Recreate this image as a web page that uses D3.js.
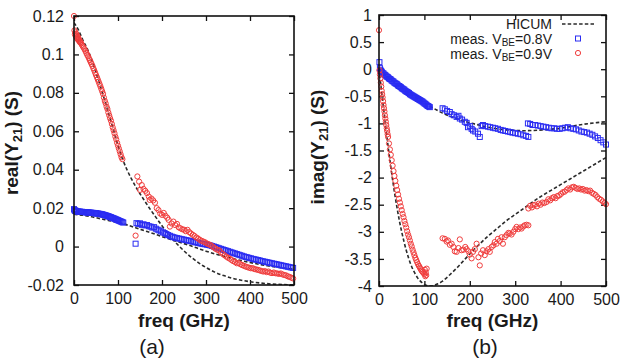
<!DOCTYPE html>
<html><head><meta charset="utf-8">
<script src="https://cdn.jsdelivr.net/npm/d3@7"></script>
<style>
body{margin:0;background:#fff}
svg{display:block}
text{font-family:"Liberation Sans",Arial,Helvetica,sans-serif;fill:#1a1a1a}
</style>
</head><body>
<svg id="c" width="623" height="363"></svg>
<script>
// ---------- ticks ----------
const xTicks = [0, 100, 200, 300, 400, 500];
const xLabels = ["0", "100", "200", "300", "400", "500"];
const yTicksA = [-0.02, 0, 0.02, 0.04, 0.06, 0.08, 0.1, 0.12];
const yLabelsA = ["-0.02", "0", "0.02", "0.04", "0.06", "0.08", "0.1", "0.12"];
const yTicksB = [-4, -3.5, -3, -2.5, -2, -1.5, -1, -0.5, 0, 0.5, 1];
const yLabelsB = ["-4", "-3.5", "-3", "-2.5", "-2", "-1.5", "-1", "-0.5", "0", "0.5", "1"];
const legendLabels = ["HICUM", "meas. V", "BE", "=0.8V", "=0.9V"];

// ---------- panel (a): real(Y21) ----------
const hicumRealA08 = [[0,0.0168],[20,0.0163],[40,0.0155],[60,0.0145],[80,0.0135],[100,0.0125],[120,0.0113],[140,0.0098],[160,0.0083],[180,0.0068],[200,0.0052],[220,0.0037],[240,0.0022],[260,0.0008],[280,-0.0008],[300,-0.0024],[320,-0.0038],[340,-0.0050],[360,-0.0062],[380,-0.0073],[400,-0.0083],[420,-0.0092],[440,-0.0100],[460,-0.0107],[480,-0.0113],[500,-0.0118]];
const hicumRealA09 = [[0,0.1165],[10,0.1128],[20,0.1075],[30,0.1030],[40,0.0975],[50,0.0905],[60,0.0835],[70,0.0760],[80,0.0683],[90,0.0605],[100,0.0525],[110,0.0457],[120,0.0402],[130,0.0355],[140,0.0313],[150,0.0275],[160,0.0240],[170,0.0205],[180,0.0172],[190,0.0140],[200,0.0108],[210,0.0078],[220,0.0050],[230,0.0024],[240,0.0000],[250,-0.0022],[260,-0.0043],[270,-0.0062],[280,-0.0079],[290,-0.0095],[300,-0.0109],[320,-0.0133],[340,-0.0151],[360,-0.0165],[380,-0.0175],[400,-0.0183],[425,-0.0190],[450,-0.0195],[475,-0.0198],[500,-0.0200]];
const measRealA08 = [[0,0.0195],[1,0.0190],[2,0.0186],[3,0.0188],[4,0.0184],[5,0.0185],[6,0.0183],[8,0.0182],[10,0.0183],[12,0.0181],[14,0.0182],[16,0.0180],[18,0.0181],[20,0.0180],[22,0.0179],[24,0.0180],[26,0.0178],[28,0.0179],[30,0.0177],[32,0.0178],[34,0.0177],[36,0.0176],[38,0.0177],[40,0.0175],[42,0.0176],[44,0.0174],[46,0.0175],[48,0.0173],[50,0.0174],[52,0.0172],[54,0.0172],[56,0.0171],[58,0.0170],[60,0.0170],[62,0.0168],[64,0.0168],[66,0.0166],[68,0.0165],[70,0.0164],[72,0.0162],[74,0.0161],[76,0.0159],[78,0.0158],[80,0.0156],[82,0.0154],[84,0.0153],[86,0.0150],[88,0.0149],[90,0.0147],[92,0.0145],[94,0.0143],[96,0.0141],[98,0.0139],[100,0.0137],[102,0.0135],[104,0.0133],[106,0.0131],[108,0.0129],[110,0.0127],[112,0.0125],
[140,0.0015],[142,0.0122],[146,0.0118],[150,0.0121],[154,0.0113],[158,0.0116],[162,0.0110],[166,0.0112],[170,0.0106],[174,0.0104],[178,0.0099],[182,0.0101],[186,0.0093],[190,0.0088],[194,0.0084],[198,0.0079],[202,0.0074],[206,0.0070],[210,0.0065],[214,0.0060],[218,0.0056],[222,0.0052],[226,0.0049],[230,0.0046],[234,0.0044],[238,0.0042],[242,0.0040],[246,0.0038],[250,0.0036],[254,0.0034],[258,0.0032],[262,0.0030],[266,0.0028],[270,0.0026],[274,0.0024],[278,0.0021],[282,0.0019],[286,0.0017],[290,0.0015],[294,0.0013],[298,0.0012],[302,0.0010],[306,0.0008],[310,0.0006],[314,0.0003],[318,0.0000],[322,-0.0003],[326,-0.0006],[330,-0.0009],[334,-0.0012],[338,-0.0015],[342,-0.0018],[346,-0.0021],[350,-0.0024],[354,-0.0027],[358,-0.0030],[362,-0.0033],[366,-0.0036],[370,-0.0039],[374,-0.0042],[378,-0.0045],[382,-0.0048],[386,-0.0051],[390,-0.0054],[394,-0.0056],[398,-0.0059],[402,-0.0061],[406,-0.0064],[410,-0.0066],[414,-0.0068],[418,-0.0070],[422,-0.0072],[426,-0.0075],[430,-0.0077],[434,-0.0079],[438,-0.0081],[442,-0.0083],[446,-0.0085],[450,-0.0087],[454,-0.0089],[458,-0.0091],[462,-0.0093],[466,-0.0095],[470,-0.0097],[474,-0.0099],[478,-0.0101],[482,-0.0103],[486,-0.0105],[490,-0.0107],[494,-0.0109],[498,-0.0111]];
const measRealA09 = [[0,0.1200],[1,0.1125],[2,0.1105],[3,0.1115],[4,0.1095],[5,0.1108],[6,0.1088],[7,0.1098],[8,0.1080],[9,0.1090],[10,0.1075],[11,0.1082],[12,0.1068],[13,0.1072],[14,0.1062],[15,0.1065],[16,0.1058],[18,0.1050],[20,0.1042],[22,0.1035],[24,0.1027],[26,0.1018],[28,0.1008],[30,0.0998],[32,0.0990],[34,0.0980],[36,0.0970],[38,0.0960],[40,0.0950],[42,0.0940],[44,0.0928],[46,0.0917],[48,0.0905],[50,0.0893],[52,0.0882],[54,0.0870],[56,0.0858],[58,0.0846],[60,0.0834],[62,0.0821],[64,0.0808],[66,0.0795],[68,0.0775],[70,0.0758],[72,0.0745],[74,0.0728],[76,0.0716],[78,0.0698],[80,0.0683],[82,0.0668],[84,0.0655],[86,0.0638],[88,0.0620],[90,0.0605],[92,0.0590],[94,0.0572],[96,0.0558],[98,0.0540],[100,0.0525],[102,0.0510],[104,0.0495],[106,0.0480],[108,0.0465],[110,0.0455],
[140,0.0057],[144,0.0365],[148,0.0338],[150,0.0295],[154,0.0320],[158,0.0300],[162,0.0290],[166,0.0278],[170,0.0260],[172,0.0243],[176,0.0250],[180,0.0240],[184,0.0228],[188,0.0200],[192,0.0190],[196,0.0172],[200,0.0165],[204,0.0175],[208,0.0160],[212,0.0150],[215,0.0139],[218,0.0104],[222,0.0120],[226,0.0130],[230,0.0112],[234,0.0118],[238,0.0100],[242,0.0095],[246,0.0090],[250,0.0088],[254,0.0080],[258,0.0087],[262,0.0075],[266,0.0068],[270,0.0061],[274,0.0055],[278,0.0047],[282,0.0042],[286,0.0035],[290,0.0030],[294,0.0026],[298,0.0022],[302,0.0016],[306,0.0012],[310,0.0008],[314,0.0002],[318,-0.0005],[322,-0.0012],[326,-0.0017],[330,-0.0020],[334,-0.0030],[338,-0.0038],[342,-0.0045],[346,-0.0052],[350,-0.0058],[354,-0.0063],[358,-0.0070],[362,-0.0076],[366,-0.0080],[370,-0.0087],[374,-0.0085],[378,-0.0092],[382,-0.0096],[386,-0.0100],[390,-0.0104],[394,-0.0107],[398,-0.0110],[402,-0.0113],[406,-0.0112],[410,-0.0117],[414,-0.0119],[418,-0.0121],[422,-0.0124],[426,-0.0127],[430,-0.0130],[434,-0.0128],[438,-0.0133],[442,-0.0130],[446,-0.0136],[450,-0.0138],[454,-0.0135],[458,-0.0139],[462,-0.0140],[466,-0.0142],[470,-0.0140],[474,-0.0145],[478,-0.0148],[482,-0.0150],[486,-0.0155],[490,-0.0158],[494,-0.0162],[498,-0.0166]];

// ---------- panel (b): imag(Y21) ----------
const hicumImagB08 = [[0,0.00],[20,-0.15],[40,-0.28],[60,-0.40],[80,-0.52],[100,-0.62],[120,-0.72],[140,-0.81],[160,-0.88],[180,-0.94],[200,-0.99],[220,-1.03],[240,-1.07],[260,-1.10],[280,-1.12],[300,-1.13],[320,-1.135],[340,-1.13],[360,-1.12],[380,-1.105],[400,-1.09],[420,-1.06],[440,-1.03],[460,-1.005],[480,-0.985],[500,-0.97]];
const hicumImagB09 = [[0,0.00],[5,-0.36],[10,-0.72],[15,-1.08],[20,-1.42],[25,-1.74],[30,-2.04],[35,-2.32],[40,-2.57],[45,-2.80],[50,-3.00],[55,-3.18],[60,-3.34],[65,-3.48],[70,-3.60],[75,-3.70],[80,-3.78],[85,-3.85],[90,-3.90],[95,-3.94],[100,-3.97],[105,-3.99],[110,-4.00],[115,-4.00],[120,-3.99],[130,-3.96],[140,-3.91],[150,-3.84],[160,-3.76],[170,-3.68],[180,-3.59],[190,-3.50],[200,-3.41],[210,-3.32],[220,-3.24],[240,-3.08],[260,-2.94],[280,-2.80],[300,-2.68],[320,-2.56],[340,-2.44],[360,-2.33],[380,-2.23],[400,-2.13],[420,-2.03],[440,-1.93],[460,-1.83],[480,-1.73],[500,-1.63]];
const measImagB08 = [[1,0.13],[2,0.02],[3,-0.01],[4,-0.03],[5,-0.04],[6,-0.05],[8,-0.07],[10,-0.08],[12,-0.10],[14,-0.11],[16,-0.13],[18,-0.14],[20,-0.15],[22,-0.17],[24,-0.18],[26,-0.19],[28,-0.21],[30,-0.22],[32,-0.23],[34,-0.25],[36,-0.26],[38,-0.27],[40,-0.28],[42,-0.30],[44,-0.31],[46,-0.32],[48,-0.33],[50,-0.35],[52,-0.36],[54,-0.37],[56,-0.38],[58,-0.40],[60,-0.41],[62,-0.42],[64,-0.43],[66,-0.44],[68,-0.46],[70,-0.47],[72,-0.48],[74,-0.49],[76,-0.50],[78,-0.51],[80,-0.52],[82,-0.53],[84,-0.54],[86,-0.55],[88,-0.56],[90,-0.57],[92,-0.58],[94,-0.59],[96,-0.60],[98,-0.615],[100,-0.63],[102,-0.64],[104,-0.655],[106,-0.67],[108,-0.68],[110,-0.69],[112,-0.70],
[140,-0.72],[145,-0.74],[150,-0.77],[156,-0.79],[160,-0.83],[165,-0.85],[171,-0.88],[175,-0.86],[178,-0.91],[183,-0.93],[189,-0.97],[193,-0.99],[196,-1.07],[200,-1.05],[204,-1.10],[207,-1.13],[212,-1.15],[218,-1.19],[222,-1.25],[226,-1.05],[229,-1.03],[234,-1.05],[240,-1.06],[245,-1.07],[251,-1.08],[256,-1.09],[262,-1.10],[268,-1.12],[273,-1.13],[278,-1.14],[284,-1.15],[289,-1.16],[294,-1.17],[300,-1.18],[306,-1.19],[312,-1.20],[318,-1.22],[324,-1.23],[329,-1.25],[328,-1.00],[333,-1.01],[338,-1.03],[344,-1.03],[350,-1.04],[356,-1.05],[362,-1.06],[368,-1.07],[374,-1.08],[380,-1.09],[386,-1.09],[392,-1.10],[398,-1.10],[404,-1.09],[410,-1.08],[416,-1.07],[422,-1.09],[428,-1.10],[434,-1.11],[440,-1.13],[446,-1.15],[452,-1.16],[458,-1.17],[464,-1.19],[470,-1.21],[476,-1.24],[482,-1.27],[488,-1.31],[494,-1.35],[500,-1.39]];
const measImagB09 = [[0,0.72],[1,-0.02],[2,-0.10],[3,-0.17],[4,-0.25],[5,-0.32],[6,-0.40],[7,-0.46],[8,-0.52],[9,-0.59],[10,-0.66],[11,-0.72],[12,-0.78],[13,-0.85],[14,-0.91],[15,-0.97],[16,-1.03],[17,-1.09],[18,-1.14],[19,-1.20],[20,-1.25],[22,-1.37],[24,-1.48],[26,-1.58],[28,-1.68],[30,-1.78],[32,-1.88],[34,-1.97],[36,-2.06],[38,-2.15],[40,-2.23],[42,-2.31],[44,-2.39],[46,-2.46],[48,-2.53],[50,-2.60],[52,-2.67],[54,-2.73],[56,-2.80],[58,-2.86],[60,-2.92],[62,-2.99],[64,-3.05],[66,-3.10],[68,-3.16],[70,-3.22],[72,-3.27],[74,-3.33],[76,-3.38],[78,-3.43],[80,-3.48],[82,-3.52],[84,-3.56],[86,-3.60],[88,-3.63],[90,-3.66],[92,-3.69],[94,-3.72],[96,-3.74],[98,-3.76],[100,-3.78],[101,-3.70],[102,-3.82],[103,-3.75],[104,-3.80],[105,-3.68],
[140,-3.12],[145,-3.13],[149,-3.18],[152,-3.16],[156,-3.24],[160,-3.22],[164,-3.28],[167,-3.36],[171,-3.37],[175,-3.30],[178,-3.14],[182,-3.34],[186,-3.33],[190,-3.28],[193,-3.32],[197,-3.36],[200,-3.42],[204,-3.49],[207,-3.37],[211,-3.32],[215,-3.22],[219,-3.47],[222,-3.62],[225,-3.40],[229,-3.34],[233,-3.43],[237,-3.36],[241,-3.32],[244,-3.37],[248,-3.28],[252,-3.25],[255,-3.19],[259,-3.22],[262,-3.13],[266,-3.17],[270,-3.10],[273,-3.22],[277,-3.10],[281,-3.06],[285,-3.02],[288,-3.03],[292,-3.05],[296,-3.00],[300,-2.95],[303,-2.91],[307,-2.95],[311,-2.92],[314,-2.94],[318,-2.90],[321,-2.88],[325,-2.87],[329,-2.88],[329,-2.57],[333,-2.52],[337,-2.55],[340,-2.51],[344,-2.50],[348,-2.53],[352,-2.48],[356,-2.50],[360,-2.46],[364,-2.47],[369,-2.45],[373,-2.40],[377,-2.42],[381,-2.38],[385,-2.36],[389,-2.38],[393,-2.34],[397,-2.33],[401,-2.30],[405,-2.27],[409,-2.26],[413,-2.23],[417,-2.20],[421,-2.22],[425,-2.18],[429,-2.17],[433,-2.19],[437,-2.21],[441,-2.20],[445,-2.22],[449,-2.21],[453,-2.24],[457,-2.23],[461,-2.25],[465,-2.24],[469,-2.28],[473,-2.30],[477,-2.32],[481,-2.36],[485,-2.39],[489,-2.41],[493,-2.44],[497,-2.47],[500,-2.49]];

// ---------- drawing ----------
const BLUE = "#2a2cf2", RED = "#f03c3c", DASH = "#2a2a2a";
const svg = d3.select("#c");

function drawPanel(cfg) {
  const g = svg.append("g");
  const x = d3.scaleLinear().domain([0, 500]).range([cfg.left, cfg.right]);
  const y = d3.scaleLinear().domain(cfg.yDomain).range([cfg.bottom, cfg.top]);
  const clipId = "clip" + cfg.id;
  svg.append("clipPath").attr("id", clipId).append("rect")
    .attr("x", cfg.left).attr("y", cfg.top)
    .attr("width", cfg.right - cfg.left).attr("height", cfg.bottom - cfg.top);

  const styleAxis = (sel) => {
    sel.select(".domain").remove();
    sel.selectAll(".tick line").attr("stroke", "#111").attr("stroke-width", 1.3);
    sel.selectAll(".tick text").attr("font-size", 16).attr("fill", "#1a1a1a")
      .attr("font-family", '"Liberation Sans", Arial, sans-serif');
  };
  g.append("g").attr("transform", `translate(0,${cfg.bottom})`)
    .call(d3.axisBottom(x).tickValues(xTicks).tickSize(-5).tickPadding(8)
      .tickFormat((d, i) => xLabels[i])).call(styleAxis);
  g.append("g").attr("transform", `translate(0,${cfg.top})`)
    .call(d3.axisTop(x).tickValues(xTicks).tickSize(-5).tickFormat("")).call(styleAxis);
  g.append("g").attr("transform", `translate(${cfg.left},0)`)
    .call(d3.axisLeft(y).tickValues(cfg.yTicks).tickSize(-5).tickPadding(cfg.yPad)
      .tickFormat((d, i) => cfg.yLabels[i])).call(styleAxis);
  g.append("g").attr("transform", `translate(${cfg.right},0)`)
    .call(d3.axisRight(y).tickValues(cfg.yTicks).tickSize(-5).tickFormat("")).call(styleAxis);

  const line = d3.line().x(d => x(d[0])).y(d => y(d[1])).curve(d3.curveMonotoneX);
  const lg = g.append("g").attr("clip-path", `url(#${clipId})`);
  cfg.lines.forEach(L => {
    lg.append("path").attr("d", line(L)).attr("fill", "none")
      .attr("stroke", DASH).attr("stroke-width", 1.6).attr("stroke-dasharray", "3.5,2.2");
  });
  g.append("g").selectAll("rect").data(cfg.blue).join("rect")
    .attr("x", d => x(d[0]) - 2.5).attr("y", d => y(d[1]) - 2.5)
    .attr("width", 5).attr("height", 5)
    .attr("fill", "none").attr("stroke", BLUE).attr("stroke-width", 1);
  g.append("g").selectAll("circle").data(cfg.red).join("circle")
    .attr("cx", d => x(d[0])).attr("cy", d => y(d[1])).attr("r", 2.6)
    .attr("fill", "none").attr("stroke", RED).attr("stroke-width", 1);

  g.append("rect").attr("x", cfg.left).attr("y", cfg.top)
    .attr("width", cfg.right - cfg.left).attr("height", cfg.bottom - cfg.top)
    .attr("fill", "none").attr("stroke", "#111").attr("stroke-width", 1.6);

  g.append("text").attr("x", (cfg.left + cfg.right) / 2).attr("y", 327)
    .attr("text-anchor", "middle").attr("font-size", 19).attr("font-weight", "bold")
    .text("freq (GHz)");
  const t = g.append("text")
    .attr("transform", `translate(${cfg.titleX},${cfg.titleY}) rotate(-90)`)
    .attr("text-anchor", "middle").attr("font-size", 19).attr("font-weight", "bold");
  t.append("tspan").text(cfg.titlePre + "(Y");
  t.append("tspan").attr("font-size", 13).attr("dy", 4).text("21");
  t.append("tspan").attr("dy", -4).text(") (S)");
  g.append("text").attr("x", cfg.letterX).attr("y", 354).attr("text-anchor", "middle")
    .attr("font-size", 21).text(cfg.letter);
  return { x, y };
}

drawPanel({
  id: "a", left: 74, right: 294, top: 16, bottom: 285,
  yDomain: [-0.02, 0.12], yTicks: yTicksA, yLabels: yLabelsA, yPad: 10,
  lines: [hicumRealA08, hicumRealA09], blue: measRealA08, red: measRealA09,
  titlePre: "real", titleX: 18, titleY: 143, letter: "(a)", letterX: 152
});
drawPanel({
  id: "b", left: 379, right: 606, top: 15, bottom: 286,
  yDomain: [-4, 1], yTicks: yTicksB, yLabels: yLabelsB, yPad: 7,
  lines: [hicumImagB08, hicumImagB09], blue: measImagB08, red: measImagB09,
  titlePre: "imag", titleX: 324, titleY: 147, letter: "(b)", letterX: 485
});

// ---------- legend ----------
const leg = svg.append("g").attr("font-size", 14);
leg.append("text").attr("x", 552).attr("y", 28.5).attr("text-anchor", "end").text(legendLabels[0]);
[[43.5, legendLabels[3]], [58.5, legendLabels[4]]].forEach(([yy, tail]) => {
  const tx = leg.append("text").attr("x", 552).attr("y", yy).attr("text-anchor", "end");
  tx.append("tspan").text(legendLabels[1]);
  tx.append("tspan").attr("font-size", 10).attr("dy", 2.5).text(legendLabels[2]);
  tx.append("tspan").attr("dy", -2.5).text(tail);
});
leg.append("line").attr("x1", 562).attr("x2", 594).attr("y1", 24).attr("y2", 24)
  .attr("stroke", DASH).attr("stroke-width", 1.6).attr("stroke-dasharray", "3.5,2.2");
leg.append("rect").attr("x", 578 - 2.5).attr("y", 38.5 - 2.5).attr("width", 5).attr("height", 5)
  .attr("fill", "none").attr("stroke", BLUE).attr("stroke-width", 1);
leg.append("circle").attr("cx", 578).attr("cy", 53).attr("r", 2.6)
  .attr("fill", "none").attr("stroke", RED).attr("stroke-width", 1);
</script>
</body></html>
